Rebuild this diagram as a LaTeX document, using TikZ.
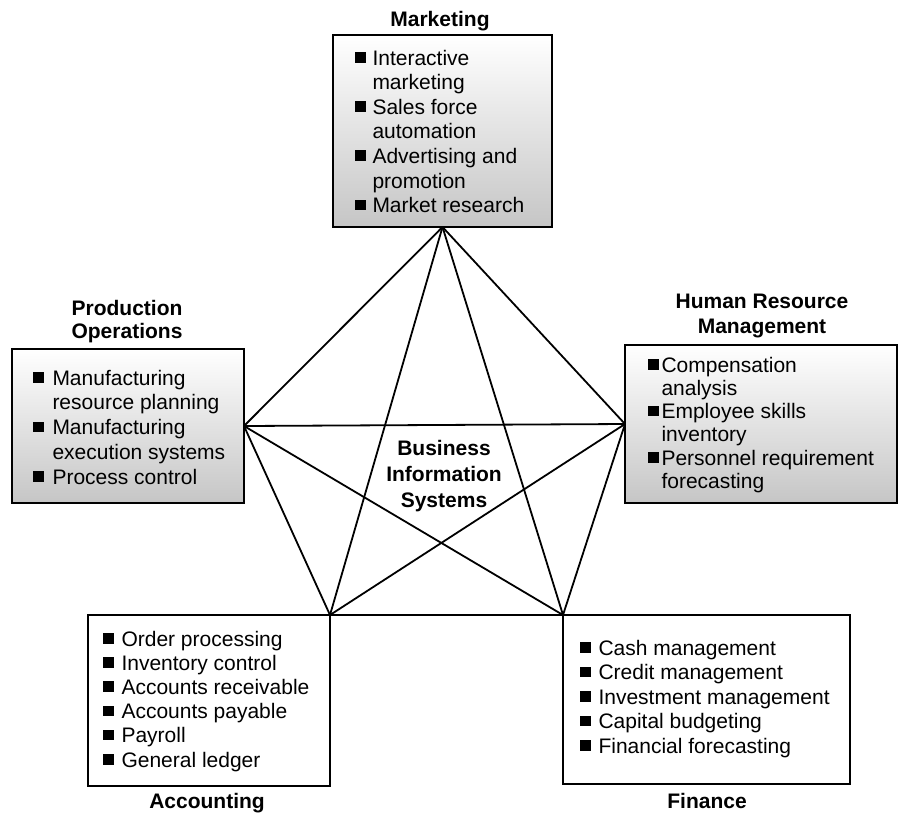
\documentclass[tikz,border=0pt]{standalone}
\usepackage{fontspec}
\setmainfont{Liberation Sans}
\newcommand{\blt}{\rule[2.5pt]{10.5pt}{10.5pt}}
\tikzset{
  box/.style={draw, line width=1.9pt, inner sep=0pt, outer sep=0pt, anchor=north west},
  shadedbox/.style={box, top color=white, middle color=white, bottom color=gray!45},
  items/.style={anchor=base west, inner sep=0pt, outer sep=0pt},
  head/.style={anchor=base, inner sep=0pt, outer sep=0pt, font=\fontsize{21}{24}\selectfont\bfseries},
  link/.style={line width=1.8pt, line cap=round},
}
\begin{document}
\begin{tikzpicture}[x=1pt, y=-1pt]
\useasboundingbox (0,0) rectangle (902,815);
\fill[white] (0,0) rectangle (902,815);

% boxes
\node[shadedbox, minimum width=219pt, minimum height=192pt] (mktbox) at (333,35) {};
\node[shadedbox, minimum width=232pt, minimum height=154pt] (prodbox) at (12,349) {};
\node[shadedbox, minimum width=272pt, minimum height=158pt] (hrbox) at (625,345) {};
\node[box, minimum width=242pt, minimum height=171pt] (accbox) at (88,615) {};
\node[box, minimum width=287pt, minimum height=169pt] (finbox) at (563,615) {};

% vertices
\coordinate (vm) at (mktbox.south);
\coordinate (vp) at (prodbox.east);
\coordinate (vh) at (hrbox.west);
\coordinate (va) at (accbox.north east);
\coordinate (vf) at (finbox.north west);

% complete graph
\draw[link] (vm) -- (vp);
\draw[link] (vm) -- (vh);
\draw[link] (vm) -- (va);
\draw[link] (vm) -- (vf);
\draw[link] (vp) -- (vh);
\draw[link] (vp) -- (va);
\draw[link] (vp) -- (vf);
\draw[link] (vh) -- (va);
\draw[link] (vh) -- (vf);
\draw[link] (va) -- (vf);

% headings
\node[head] (mkthead) at (440,26) {Marketing};
\node[head, font=\fontsize{21}{23.5}\selectfont\bfseries] (prodhead) at (127,315)
  {\begin{tabular}[t]{@{}c@{}}Production\\Operations\end{tabular}};
\node[head, font=\fontsize{21}{25}\selectfont\bfseries] (hrhead) at (762,308)
  {\begin{tabular}[t]{@{}c@{}}Human Resource\\Management\end{tabular}};
\node[head] (acchead) at (207,808) {Accounting};
\node[head] (finhead) at (707,808) {Finance};
\node[head, font=\fontsize{21}{26}\selectfont\bfseries] (center) at (444,455)
  {\begin{tabular}[t]{@{}c@{}}Business\\Information\\Systems\end{tabular}};

% item lists
\node[items, font=\fontsize{21}{24.6}\selectfont] (mktitems) at (355,65)
  {\begin{tabular}[t]{@{}l@{\hspace{7pt}}l@{}}
   \blt & Interactive\\ & marketing\\
   \blt & Sales force\\ & automation\\
   \blt & Advertising and\\ & promotion\\
   \blt & Market research
   \end{tabular}};
\node[items, font=\fontsize{21}{24.8}\selectfont] (proditems) at (33,385)
  {\begin{tabular}[t]{@{}l@{\hspace{9pt}}l@{}}
   \blt & Manufacturing\\ & resource planning\\
   \blt & Manufacturing\\ & execution systems\\
   \blt & Process control
   \end{tabular}};
\node[items, font=\fontsize{21}{23.3}\selectfont] (hritems) at (648,372)
  {\begin{tabular}[t]{@{}l@{\hspace{3pt}}l@{}}
   \blt & Compensation\\ & analysis\\
   \blt & Employee skills\\ & inventory\\
   \blt & Personnel requirement\\ & forecasting
   \end{tabular}};
\node[items, font=\fontsize{21}{24.2}\selectfont] (accitems) at (103,646)
  {\begin{tabular}[t]{@{}l@{\hspace{8pt}}l@{}}
   \blt & Order processing\\
   \blt & Inventory control\\
   \blt & Accounts receivable\\
   \blt & Accounts payable\\
   \blt & Payroll\\
   \blt & General ledger
   \end{tabular}};
\node[items, font=\fontsize{21}{24.5}\selectfont] (finitems) at (580,655)
  {\begin{tabular}[t]{@{}l@{\hspace{8pt}}l@{}}
   \blt & Cash management\\
   \blt & Credit management\\
   \blt & Investment management\\
   \blt & Capital budgeting\\
   \blt & Financial forecasting
   \end{tabular}};
\end{tikzpicture}
\end{document}
